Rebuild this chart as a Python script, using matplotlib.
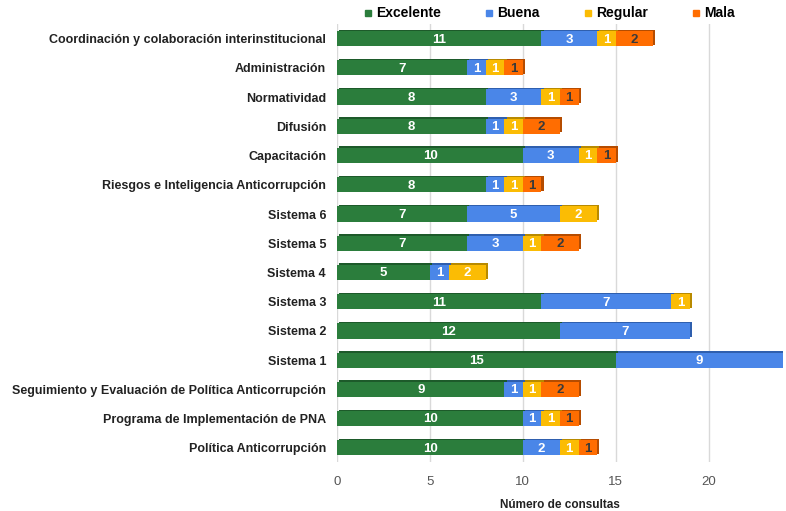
import numpy as np
import matplotlib.pyplot as plt
from matplotlib.lines import Line2D

categorias = ["Coordinación y colaboración interinstitucional", "Administración", "Normatividad",
              "Difusión", "Capacitación", "Riesgos e Inteligencia Anticorrupción", "Sistema 6",
              "Sistema 5", "Sistema 4", "Sistema 3", "Sistema 2", "Sistema 1",
              "Seguimiento y Evaluación de Política Anticorrupción",
              "Programa de Implementación de PNA", "Política Anticorrupción"]
excelente = [11, 7, 8, 8, 10, 8, 7, 7, 5, 11, 12, 15, 9, 10, 10]
buena = [3, 1, 3, 1, 3, 1, 5, 3, 1, 7, 7, 9, 1, 1, 2]
regular = [1, 1, 1, 1, 1, 1, 2, 1, 2, 1, 0, 0, 1, 1, 1]
mala = [2, 1, 1, 2, 1, 1, 0, 2, 0, 0, 0, 0, 2, 1, 1]

series = [("Excelente", excelente, "#2b7d3c", "#1d5a2a", "white"),
          ("Buena", buena, "#4a86e8", "#2f5fae", "white"),
          ("Regular", regular, "#fbbc04", "#b88a00", "white"),
          ("Mala", mala, "#ff6d01", "#b54c00", "#3a3a3a")]

plt.rcParams['font.family'] = ['Liberation Sans', 'DejaVu Sans']

fig = plt.figure(figsize=(7.86, 5.11), dpi=100)
ax = fig.add_axes([0.429, 0.095, 0.567, 0.858])

y = np.arange(len(categorias))
h = 0.52
left = np.zeros(len(categorias))
for name, vals, col, dark, tcol in series:
    vals = np.array(vals, dtype=float)
    # sombra para el efecto 3D
    ax.barh(y - 0.05, vals, left=left + 0.12, height=h, color=dark, zorder=2)
    ax.barh(y, vals, left=left, height=h, color=col, zorder=3)
    for yi, l, v in zip(y, left, vals):
        if v > 0:
            ax.text(l + v / 2, yi + 0.03, str(int(v)), ha='center', va='center',
                    color=tcol, fontsize=9.5, fontweight='bold', zorder=4)
    left += vals

ax.set_yticks(y)
ax.set_yticklabels(categorias, fontsize=9, fontweight='bold', color='#222222')
ax.set_xlim(0, 24)
ax.set_ylim(len(categorias) - 0.5, -0.5)
ax.set_xticks([0, 5, 10, 15, 20])
ax.tick_params(axis='x', colors='#555555', labelsize=9.5, length=0, pad=10)
ax.tick_params(axis='y', length=0, pad=8)
ax.grid(axis='x', color='#d9d9d9', linewidth=1, zorder=0)
for s in ax.spines.values():
    s.set_visible(False)
ax.set_xlabel("Número de consultas", fontsize=8.5, fontweight='bold', color='#222222', labelpad=8)

handles = [Line2D([], [], marker='s', linestyle='', color=c, markersize=5) for _, _, c, _, _ in series]
fig.legend(handles, [s[0] for s in series], loc='upper center', bbox_to_anchor=(0.697, 1.012),
           ncol=4, frameon=False, columnspacing=3.0, handletextpad=0.05, handlelength=1.0,
           prop={'weight': 'bold', 'size': 10})

fig.savefig("out.png", dpi=100)
